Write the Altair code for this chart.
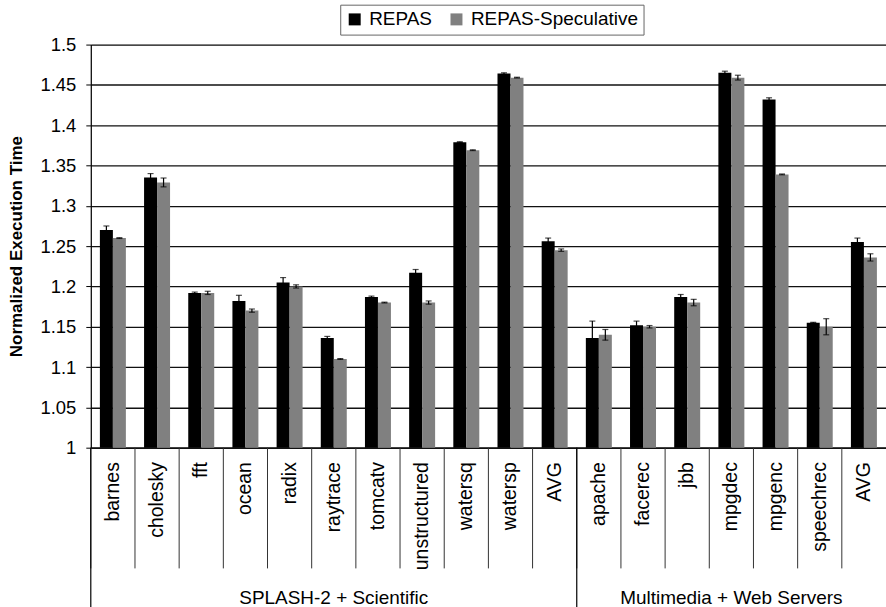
import altair as alt
import pandas as pd

# Benchmark groups and their categories
group_names = ["SPLASH-2 + Scientific", "Multimedia + Web Servers"]
splash_names = ["barnes", "cholesky", "fft", "ocean", "radix", "raytrace",
                "tomcatv", "unstructured", "watersq", "watersp", "AVG"]
media_names = ["apache", "facerec", "jbb", "mpgdec", "mpgenc", "speechrec", "AVG"]

series_names = ["REPAS", "REPAS-Speculative"]
series_colors = ["#000000", "#808080"]

# Normalized execution time and half-width of the error bars
repas = [1.270, 1.335, 1.192, 1.182, 1.205, 1.136, 1.187, 1.217, 1.379, 1.464, 1.256,
         1.136, 1.152, 1.187, 1.465, 1.432, 1.155, 1.255]
repas_err = [0.005, 0.005, 0.001, 0.007, 0.006, 0.002, 0.001, 0.004, 0.0005, 0.001, 0.004,
             0.021, 0.005, 0.003, 0.002, 0.002, 0.0005, 0.005]
spec = [1.260, 1.329, 1.192, 1.170, 1.200, 1.110, 1.180, 1.180, 1.369, 1.459, 1.245,
        1.140, 1.150, 1.180, 1.459, 1.339, 1.150, 1.236]
spec_err = [0.0005, 0.0055, 0.002, 0.002, 0.002, 0.0005, 0.0005, 0.002, 0.0005, 0.0005, 0.0015,
            0.0066, 0.0015, 0.004, 0.003, 0.0005, 0.010, 0.0045]

y_ticks = [1.0, 1.05, 1.1, 1.15, 1.2, 1.25, 1.3, 1.35, 1.4, 1.45, 1.5]

# Unique category keys "group|name" (AVG appears in both groups)
groups = [(group_names[0], splash_names), (group_names[1], media_names)]
keys = [f"{g}|{n}" for g, names in groups for n in names]

rows = []
for i, k in enumerate(keys):
    for s, vals, errs in ((series_names[0], repas, repas_err), (series_names[1], spec, spec_err)):
        rows.append({"key": k, "series": s, "value": vals[i],
                     "lo": vals[i] - errs[i], "hi": vals[i] + errs[i]})
bars_df = pd.DataFrame(rows)

bounds_df = pd.DataFrame({"key": keys})
group_df = pd.DataFrame([
    {"key": f"{g}|{names[0]}", "mid": f"{g}|{names[len(names) // 2]}", "group": g}
    for g, names in groups
])
group_label_df = group_df[["mid", "group"]].rename(columns={"mid": "key"})

W, H = 797, 404
FONT = "Liberation Sans"

x_scale = alt.Scale(paddingInner=0, paddingOuter=0)
x_axis = alt.Axis(
    title=None, labelExpr="split(datum.value, '|')[1]",
    labelAngle=270, labelPadding=14, ticks=False,
    labelFontSize=19.5, labelColor="#000", labelFont=FONT,
    domainColor="#000", domainWidth=1.2, grid=False,
)
y_scale = alt.Scale(domain=[1, 1.5], zero=False, nice=False)
y_axis = alt.Axis(
    values=y_ticks, format=".2~f", title="Normalized Execution Time",
    titleFontSize=17, titleFontWeight="bold", titleFont=FONT, titleColor="#000",
    titleX=-74, titleY=H / 2, titleBaseline="middle", titleAlign="center",
    labelFontSize=18.5, labelFont=FONT, labelColor="#000", labelPadding=10,
    tickSize=5, tickColor="#000", domainColor="#000", domainWidth=1.2,
    gridColor="#111", gridWidth=1.3,
)


def xenc(**kw):
    return alt.X("key:N", sort=keys, scale=x_scale, axis=x_axis, **kw)


def yenc(field):
    return alt.Y(field, scale=y_scale, axis=y_axis)


x_off = alt.XOffset("series:N", sort=series_names,
                    scale=alt.Scale(paddingInner=0, paddingOuter=0.7))

bars = alt.Chart(bars_df).mark_bar().encode(
    x=xenc(),
    xOffset=x_off,
    y=yenc("value:Q"),
    y2=alt.datum(1.0),
    color=alt.Color("series:N", sort=series_names,
                    scale=alt.Scale(domain=series_names, range=series_colors),
                    legend=alt.Legend(
                        title=None, orient="none", legendX=250, legendY=-40,
                        direction="horizontal", symbolType="square", symbolSize=144,
                        symbolStrokeWidth=0, labelFontSize=19, labelFont=FONT,
                        labelColor="#000", labelOffset=5, columnPadding=14,
                        labelLimit=400,
                        strokeColor="#666", padding=5, fillColor="#fff",
                    )),
)

err_rule = alt.Chart(bars_df).mark_rule(color="#000", strokeWidth=1.2).encode(
    x=xenc(), xOffset=x_off, y=yenc("lo:Q"), y2="hi:Q",
)
cap_lo = alt.Chart(bars_df).mark_tick(color="#000", thickness=1.2, size=6).encode(
    x=xenc(), xOffset=x_off, y=yenc("lo:Q"),
)
cap_hi = alt.Chart(bars_df).mark_tick(color="#000", thickness=1.2, size=6).encode(
    x=xenc(), xOffset=x_off, y=yenc("hi:Q"),
)

# Separators between category labels and between the two groups
dividers = alt.Chart(bounds_df).mark_rule(color="#333", strokeWidth=1).encode(
    x=xenc(bandPosition=0), y=alt.value(H), y2=alt.value(H + 121),
)
group_dividers = alt.Chart(group_df).mark_rule(color="#000", strokeWidth=1.2).encode(
    x=xenc(bandPosition=0), y=alt.value(H), y2=alt.value(H + 165),
)
group_labels = alt.Chart(group_label_df).mark_text(
    fontSize=19, font=FONT, color="#000", align="center", baseline="middle"
).encode(
    x=xenc(), y=alt.value(H + 151), text="group:N",
)

chart = alt.layer(
    bars, err_rule, cap_lo, cap_hi, dividers, group_dividers, group_labels
).properties(
    width=W, height=H,
    autosize="none",
    padding={"left": 91, "top": 44, "right": 0, "bottom": 159},
).configure_view(stroke=None).configure(font=FONT)

chart.save("out.html", embed_options={"renderer": "svg", "actions": False})
